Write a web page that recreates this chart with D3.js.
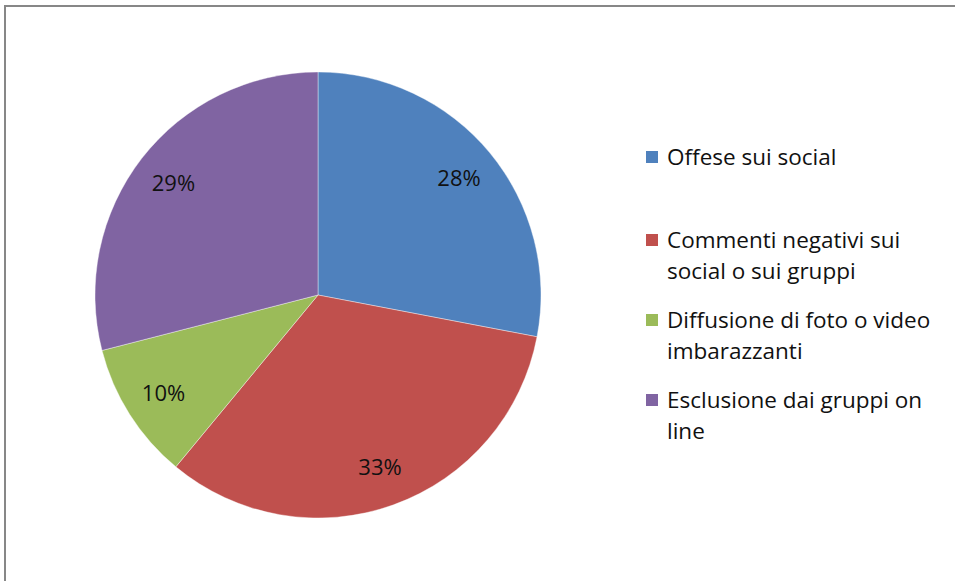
<!DOCTYPE html>
<html>
<head>
<meta charset="utf-8">
<script src="https://cdn.jsdelivr.net/npm/d3@7"></script>
<style>
  html, body { margin: 0; padding: 0; background: #fff; }
  svg { display: block; font-family: "Open Sans", Lato, sans-serif; }
</style>
</head>
<body>
<svg width="955" height="581"></svg>
<script>
// chart data
const categories = [
  "Offese sui social",
  "Commenti negativi sui social o sui gruppi",
  "Diffusione di foto o video imbarazzanti",
  "Esclusione dai gruppi on line"
];
const legendLines = [
  ["Offese sui social"],
  ["Commenti negativi sui", "social o sui gruppi"],
  ["Diffusione di foto o video", "imbarazzanti"],
  ["Esclusione dai gruppi on", "line"]
];
const values = [28, 33, 10, 29];
const colors = ["#4F81BD", "#C0504D", "#9BBB59", "#8064A2"];
const legendY = [157, 240, 320, 400];

const svg = d3.select("svg"),
  width = +svg.attr("width"),
  height = +svg.attr("height");

// outer frame (right and bottom edges are cut off in the reference)
svg.append("rect")
  .attr("x", 5)
  .attr("y", 6)
  .attr("width", width + 20)
  .attr("height", height + 20)
  .attr("fill", "none")
  .attr("stroke", "#878787")
  .attr("stroke-width", 2);

const cx = 318, cy = 295, radius = 223;
const g = svg.append("g").attr("transform", "translate(" + cx + "," + cy + ")");

const pie = d3.pie().sort(null).value(d => d);
const arcs = pie(values);
const arc = d3.arc().innerRadius(0).outerRadius(radius);
const labelArc = d3.arc().innerRadius(183).outerRadius(183);
const total = d3.sum(values);

g.selectAll("path")
  .data(arcs)
  .enter()
  .append("path")
  .attr("d", arc)
  .attr("fill", (d, i) => colors[i])
  .attr("stroke", "#fff")
  .attr("stroke-width", 0.4);

g.selectAll("text.pct")
  .data(arcs)
  .enter()
  .append("text")
  .attr("class", "pct")
  .attr("transform", d => "translate(" + labelArc.centroid(d) + ")")
  .attr("text-anchor", "middle")
  .attr("dy", "0.37em")
  .attr("font-size", "22px")
  .attr("fill", "#111")
  .text(d => d3.format(".0%")(d.value / total));

// legend
const legend = svg.append("g")
  .selectAll("g")
  .data(legendLines)
  .enter()
  .append("g")
  .attr("transform", (d, i) => "translate(646," + legendY[i] + ")");

legend.append("rect")
  .attr("x", 0)
  .attr("y", -6)
  .attr("width", 12)
  .attr("height", 12)
  .attr("fill", (d, i) => colors[i]);

legend.append("text")
  .attr("font-size", "22.5px")
  .attr("fill", "#111")
  .selectAll("tspan")
  .data(d => d)
  .enter()
  .append("tspan")
  .attr("x", 21)
  .attr("y", (d, i) => i * 31)
  .attr("dy", "0.37em")
  .text(d => d);
</script>
</body>
</html>
